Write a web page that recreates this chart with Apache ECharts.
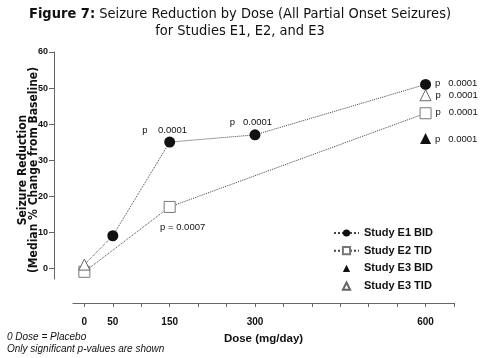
<!DOCTYPE html>
<html>
<head>
<meta charset="utf-8">
<script src="https://cdn.jsdelivr.net/npm/echarts@6/dist/echarts.min.js"></script>
<style>html,body{margin:0;padding:0;background:#fff}#c{width:480px;height:358px}</style>
</head>
<body>
<div id="c"></div>
<script>
// ---- data ----
var doses = [0, 50, 150, 300, 600];
var e1Bid = [1, 9, 35, 37, 51];
var e2Doses = [0, 150, 600];
var e2Tid = [-1, 17, 43];
var e3BidDoses = [600];
var e3Bid = [36];
var e3TidDoses = [0, 600];
var e3Tid = [1, 48];
var xLabelValues = [0, 50, 150, 300, 600];
var xTickValues = [0, 50, 100, 150, 200, 250, 300, 350, 400, 450, 500, 550, 600, 650];
var yTickValues = [0, 10, 20, 30, 40, 50, 60];
var seriesNames = ['Study E1 BID', 'Study E2 TID', 'Study E3 BID', 'Study E3 TID'];
var e1Notes = ['', '', 'p    0.0001', 'p   0.0001', 'p   0.0001'];
var e2Notes = ['', 'p = 0.0007', 'p   0.0001'];
var e3BidNotes = ['p   0.0001'];
var e3TidNotes = ['', 'p   0.0001'];

var NARROW = '"DejaVu Sans Condensed","Liberation Sans Narrow",sans-serif';
var SANS = '"Liberation Sans",Arial,sans-serif';

function pts(xs, ys) { return xs.map(function (x, i) { return [x, ys[i]]; }); }
var noteStyle = { show: true, color: '#111', fontFamily: SANS, fontSize: 9.5 };

var e1Data = pts(doses, e1Bid).map(function (p, i) {
  var d = { value: p };
  if (i === 0) d.symbolSize = 0;
  if (i === 2) d.label = Object.assign({}, noteStyle, { formatter: e1Notes[i], position: 'top', distance: 1, offset: [-5, 0] });
  if (i === 3) d.label = Object.assign({}, noteStyle, { formatter: e1Notes[i], position: 'top', distance: 2, offset: [-4, 0] });
  if (i === 4) d.label = Object.assign({}, noteStyle, { formatter: e1Notes[i], position: 'right', distance: 4, offset: [0, -1] });
  return d;
});
var e2Data = pts(e2Doses, e2Tid).map(function (p, i) {
  var d = { value: p };
  if (i === 1) d.label = Object.assign({}, noteStyle, { formatter: e2Notes[i], position: 'bottom', distance: 9, offset: [13, 0] });
  if (i === 2) d.label = Object.assign({}, noteStyle, { formatter: e2Notes[i], position: 'right', distance: 4, offset: [0, -1] });
  return d;
});
var e3BidData = pts(e3BidDoses, e3Bid).map(function (p, i) {
  return { value: p, label: Object.assign({}, noteStyle, { formatter: e3BidNotes[i], position: 'right', distance: 4, offset: [0, 1] }) };
});
var e3TidData = pts(e3TidDoses, e3Tid).map(function (p, i) {
  var d = { value: p };
  if (i === 1) d.label = Object.assign({}, noteStyle, { formatter: e3TidNotes[i], position: 'right', distance: 4, offset: [0, 0] });
  return d;
});

var noLine = { width: 0, color: 'rgba(0,0,0,0)', opacity: 0 };

var chart = echarts.init(document.getElementById('c'), null, { renderer: 'canvas' });
chart.setOption({
  animation: false,
  backgroundColor: '#fff',
  title: [
    {
      text: '{b|Figure 7:} Seizure Reduction by Dose (All Partial Onset Seizures)\nfor Studies E1, E2, and E3',
      left: 'center', top: 6, padding: 0,
      textStyle: {
        fontFamily: NARROW, fontSize: 14.5, fontWeight: 'normal', color: '#111', lineHeight: 17, align: 'center',
        rich: { b: { fontFamily: NARROW, fontSize: 14.5, fontWeight: 'bold', color: '#111', lineHeight: 17 } }
      }
    },
    {
      text: '0 Dose = Placebo\nOnly significant p-values are shown',
      left: 7, top: 331, padding: 0,
      textStyle: { fontFamily: SANS, fontSize: 10, fontStyle: 'italic', fontWeight: 'normal', color: '#111', lineHeight: 12 }
    }
  ],
  legend: {
    orient: 'vertical', left: 328, top: 222,
    itemWidth: 25, itemHeight: 9, itemGap: 5.7,
    data: seriesNames,
    textStyle: { fontFamily: SANS, fontSize: 11, fontWeight: 'bold', color: '#111', lineHeight: 12 }
  },
  grid: { left: 73, right: 26, top: 52, bottom: 79, containLabel: false, outerBoundsMode: 'none' },
  xAxis: {
    type: 'value', min: -20, max: 650, position: 'bottom', offset: 24,
    name: 'Dose (mg/day)', nameLocation: 'middle', nameGap: 30, nameMoveOverlap: false,
    nameTextStyle: { fontFamily: SANS, fontSize: 11.5, fontWeight: 'bold', color: '#111' },
    axisLine: { show: true, onZero: false, lineStyle: { color: '#666', width: 1 } },
    axisTick: { show: true, length: 4, customValues: xTickValues, lineStyle: { color: '#666' } },
    axisLabel: { customValues: xLabelValues, margin: 14, fontFamily: SANS, fontSize: 10, fontWeight: 'bold', color: '#111' },
    splitLine: { show: false }
  },
  yAxis: {
    type: 'value', min: -3, max: 60, position: 'left', offset: 19,
    name: 'Seizure Reduction\n(Median % Change from Baseline)', nameLocation: 'middle', nameGap: 14.5, nameRotate: 90,
    nameMoveOverlap: false,
    nameTextStyle: { fontFamily: NARROW, fontSize: 12, fontWeight: 'bold', color: '#111', lineHeight: 11, align: 'center', padding: [0, 9, 0, 0] },
    axisLine: { show: true, onZero: false, lineStyle: { color: '#666', width: 1 } },
    axisTick: { show: true, length: 5, customValues: yTickValues, lineStyle: { color: '#666' } },
    axisLabel: { customValues: yTickValues, margin: 6, fontFamily: SANS, fontSize: 9, fontWeight: 'bold', color: '#111' },
    splitLine: { show: false }
  },
  series: [
    {
      name: seriesNames[0], type: 'line', data: e1Data,
      symbol: 'circle', symbolSize: 11,
      itemStyle: { color: '#111' },
      lineStyle: { type: 'dotted', color: '#444', width: 1 },
      z: 3
    },
    {
      name: seriesNames[1], type: 'line', data: e2Data,
      symbol: 'rect', symbolSize: 11,
      itemStyle: { color: '#fff', borderColor: '#777', borderWidth: 1 },
      lineStyle: { type: 'dotted', color: '#444', width: 1 },
      z: 2
    },
    {
      name: seriesNames[2], type: 'line', data: e3BidData,
      symbol: 'triangle', symbolSize: 11,
      itemStyle: { color: '#111' },
      lineStyle: noLine,
      z: 4
    },
    {
      name: seriesNames[3], type: 'line', data: e3TidData,
      symbol: 'triangle', symbolSize: 11,
      itemStyle: { color: '#fff', borderColor: '#666', borderWidth: 1 },
      lineStyle: noLine,
      z: 5
    }
  ]
});
</script>
</body>
</html>
